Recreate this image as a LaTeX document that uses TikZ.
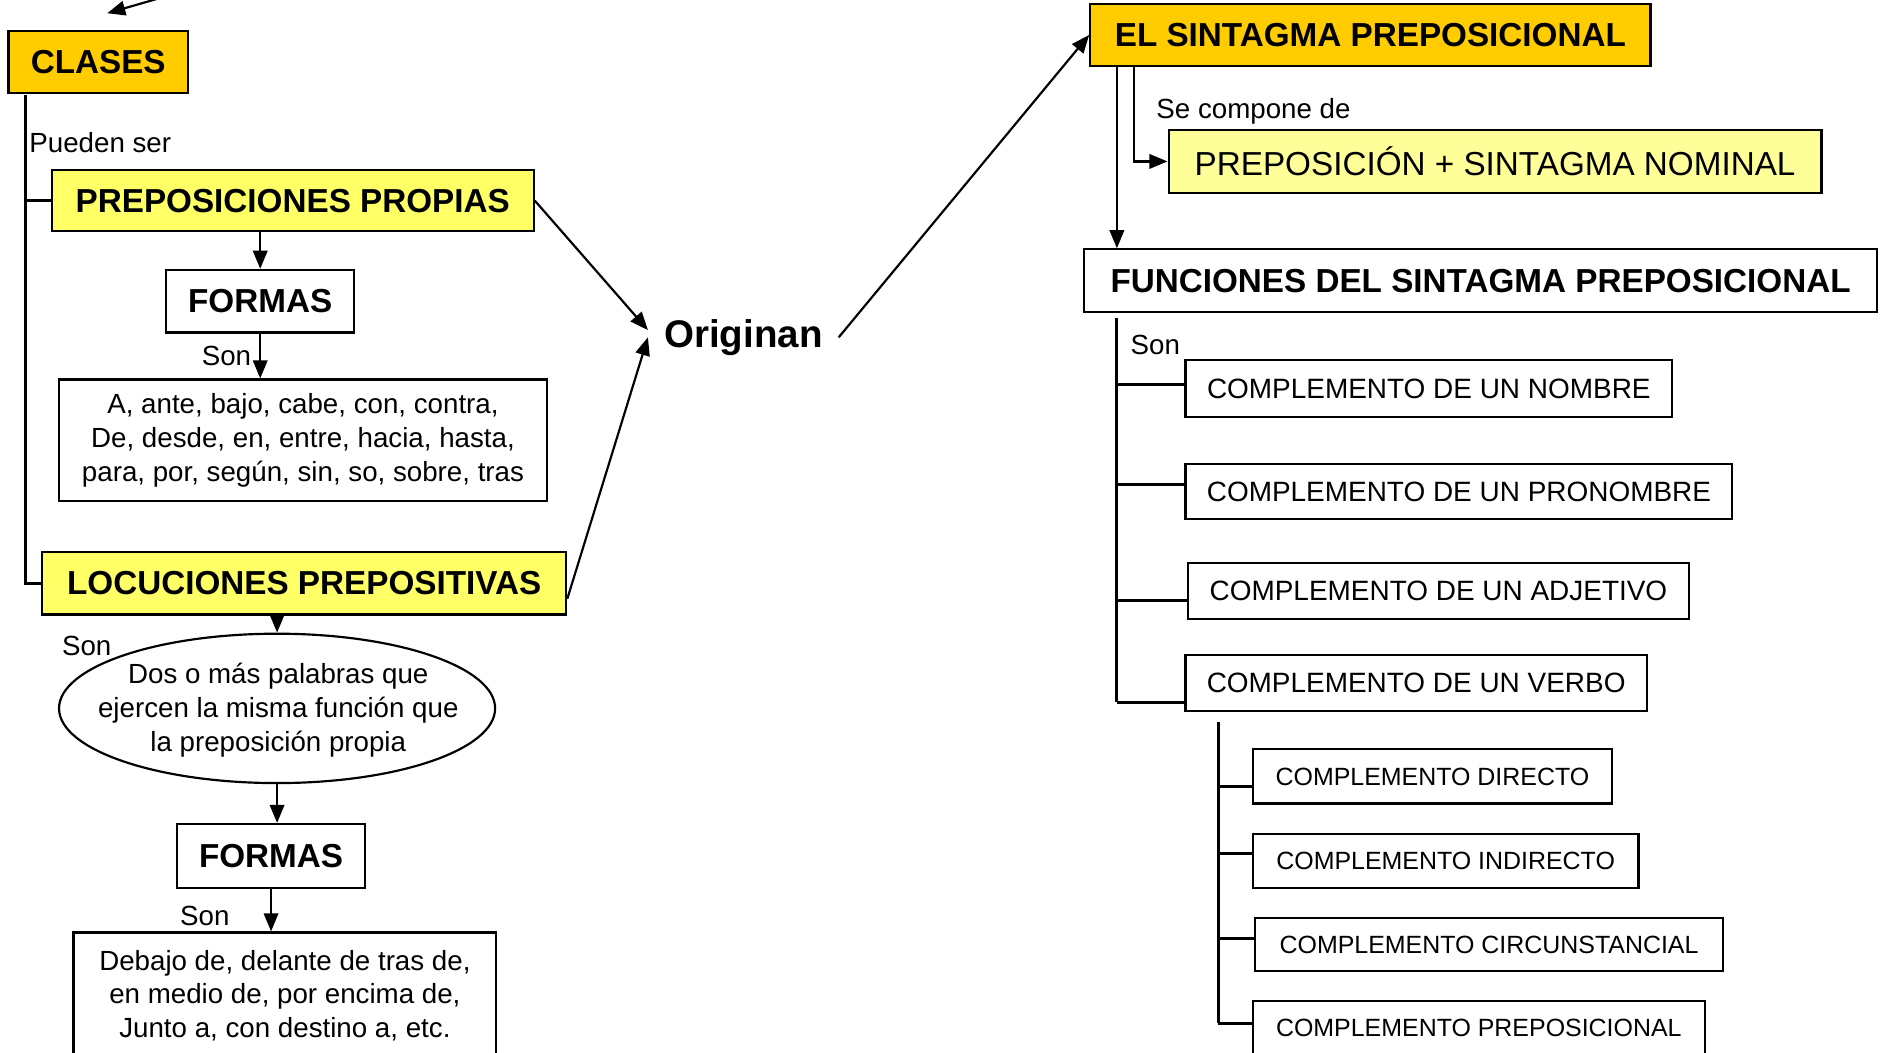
\documentclass[tikz,border=0pt]{standalone}
\usepackage{fontspec}
\setmainfont{Liberation Sans}
\usetikzlibrary{arrows.meta,shapes.geometric}

\definecolor{oro}{HTML}{FFCC00}
\definecolor{amarillo}{HTML}{FFFF66}
\definecolor{crema}{HTML}{FFFF99}

\newcommand{\ftit}{\fontsize{13.8}{16}\selectfont\bfseries}
\newcommand{\ftexto}{\fontsize{11.5}{14}\selectfont}
\newcommand{\fcomp}{\fontsize{11.6}{14}\selectfont}
\newcommand{\fsubc}{\fontsize{10.35}{12}\selectfont}

\begin{document}
\begin{tikzpicture}[x=0.5pt,y=-0.5pt]

      \useasboundingbox (0,0) rectangle (1568,874);

      \begin{scope}[every node/.style={draw, line width=0.9pt, inner sep=0pt, align=center}]
        % clases
        \node[fill=oro, minimum width=74.5pt, minimum height=25.5pt, font=\ftit] (clases) at (81.5,51.5) {CLASES};
        \node[fill=amarillo, minimum width=200pt, minimum height=25.5pt, font=\ftit] (pprop) at (243,166.5) {PREPOSICIONES PROPIAS};
        \node[minimum width=78pt, minimum height=26pt, font=\ftit] (formasA) at (216,250) {FORMAS};
        \node[minimum width=202.5pt, minimum height=50.5pt, font=\ftexto] (listaA) at (251.5,365.5) {A, ante, bajo, cabe, con, contra,\\De, desde, en, entre, hacia, hasta,\\para, por, según, sin, so, sobre, tras};
        \node[fill=amarillo, minimum width=217.5pt, minimum height=26pt, font=\ftit] (locu) at (252.5,484) {LOCUCIONES PREPOSITIVAS};
        \node[ellipse, minimum width=181pt, minimum height=62pt] (elip) at (230,588) {};
        \node[draw=none, font=\ftexto] (elipT) at (231,589.5) {Dos o más palabras que\\ejercen la misma función que\\la preposición propia};
        \node[minimum width=78pt, minimum height=26.5pt, font=\ftit] (formasB) at (225,710.5) {FORMAS};
        \node[minimum width=175.5pt, minimum height=52.5pt, font=\ftexto] (listaB) at (236.5,826.5) {Debajo de, delante de tras de,\\en medio de, por encima de,\\Junto a, con destino a, etc.};
        % sintagma
        \node[fill=oro, minimum width=232.5pt, minimum height=26pt, font=\ftit] (elsint) at (1137.5,29) {EL SINTAGMA PREPOSICIONAL};
        \node[fill=crema, minimum width=271pt, minimum height=26pt, font=\fontsize{13.8}{16}\selectfont] (prepsn) at (1241,134) {PREPOSICIÓN + SINTAGMA NOMINAL};
        \node[minimum width=329pt, minimum height=26pt, font=\ftit] (funci) at (1229,233) {FUNCIONES DEL SINTAGMA PREPOSICIONAL};
        \node[minimum width=202pt, minimum height=23.5pt, font=\fcomp] (cnom) at (1186,322.5) {COMPLEMENTO DE UN NOMBRE};
        \node[minimum width=227pt, minimum height=23pt, font=\fcomp] (cpron) at (1211,408) {COMPLEMENTO DE UN PRONOMBRE};
        \node[minimum width=208pt, minimum height=23.5pt, font=\fcomp] (cadj) at (1194,490.5) {COMPLEMENTO DE UN ADJETIVO};
        \node[minimum width=191.5pt, minimum height=23pt, font=\fcomp] (cverb) at (1175.5,567) {COMPLEMENTO DE UN VERBO};
        \node[minimum width=149pt, minimum height=22.5pt, font=\fsubc] (cdir) at (1189,644.5) {COMPLEMENTO DIRECTO};
        \node[minimum width=160pt, minimum height=22.5pt, font=\fsubc] (cind) at (1200,714.5) {COMPLEMENTO INDIRECTO};
        \node[minimum width=194pt, minimum height=22pt, font=\fsubc] (ccirc) at (1236,784) {COMPLEMENTO CIRCUNSTANCIAL};
        \node[minimum width=187.5pt, minimum height=22.5pt, font=\fsubc] (cprep) at (1227.5,853.5) {COMPLEMENTO PREPOSICIONAL};
      \end{scope}

      \node[font=\fontsize{16}{19}\selectfont\bfseries, inner sep=6.5pt] (orig) at (617,280) {Originan};

      \begin{scope}[every node/.style={font=\ftexto}]
        \node[anchor=west, inner sep=0pt] (pueden) at (24,118) {Pueden ser};
        \node (sonB) at (72,536) {Son};
        \node (sonC) at (170,760) {Son};
        \node (secomp) at (1040.5,92) {Se compone de};
        \node (sonD) at (959,286) {Son};
      \end{scope}

      \coordinate (fuera) at (141,-4);
      \coordinate (llega) at (89,11);
      \coordinate (raiz) at (21,79);
      \coordinate (ejeS) at ([xshift=11.5pt]elsint.south west);
      \coordinate (ejeC) at ([xshift=18.5pt]elsint.south west);
      \coordinate (ejeF) at ([xshift=14pt,yshift=-2pt]funci.south west);
      \coordinate (ejeV) at ([xshift=14pt,yshift=-4pt]cverb.south west);

      \begin{scope}[every edge/.style={draw, line width=0.9pt, -{Triangle[length=7.5pt,width=6pt]}}, every node/.style={font=\ftexto}]
        \path (fuera) edge (llega);
        \path (pprop.south -| formasA.north) edge (formasA.north);
        \path (formasA.south) edge node[left] {Son} (formasA.south |- listaA.north);
        \path (locu.south -| elip.north) edge (elip.north);
        \path (elip.south) edge (elip.south |- formasB.north);
        \path (formasB.south) edge (formasB.south |- listaB.north);
        \path (pprop.east) edge ([yshift=3pt]orig.west);
        \path ([yshift=-6.5pt]locu.east) edge (orig.west);
        \path (orig.east) edge (elsint.west);
        \path (ejeS) edge (ejeS |- funci.north);
        \path (ejeC) edge[to path={|- (\tikztotarget)}] (prepsn.west);
      \end{scope}

      \begin{scope}[line width=1.2pt]
        \draw (raiz) |- (locu.west);
        \draw (raiz |- pprop.west) -- (pprop.west);
        \foreach \caja/\dy in {cnom/1.5, cpron/3, cadj/-4, cverb/-8} {
          \coordinate (b\caja) at ([yshift=\dy pt]\caja.west);
          \draw (ejeF |- b\caja) -- (b\caja);
        }
        \draw (ejeF) -- (ejeF |- bcverb);
        \foreach \caja/\dy in {cdir/-4, cind/3, ccirc/2.5, cprep/2} {
          \coordinate (b\caja) at ([yshift=\dy pt]\caja.west);
          \draw (ejeV |- b\caja) -- (b\caja);
        }
        \draw (ejeV) -- (ejeV |- bcprep);
      \end{scope}

    \end{tikzpicture}
\end{document}
